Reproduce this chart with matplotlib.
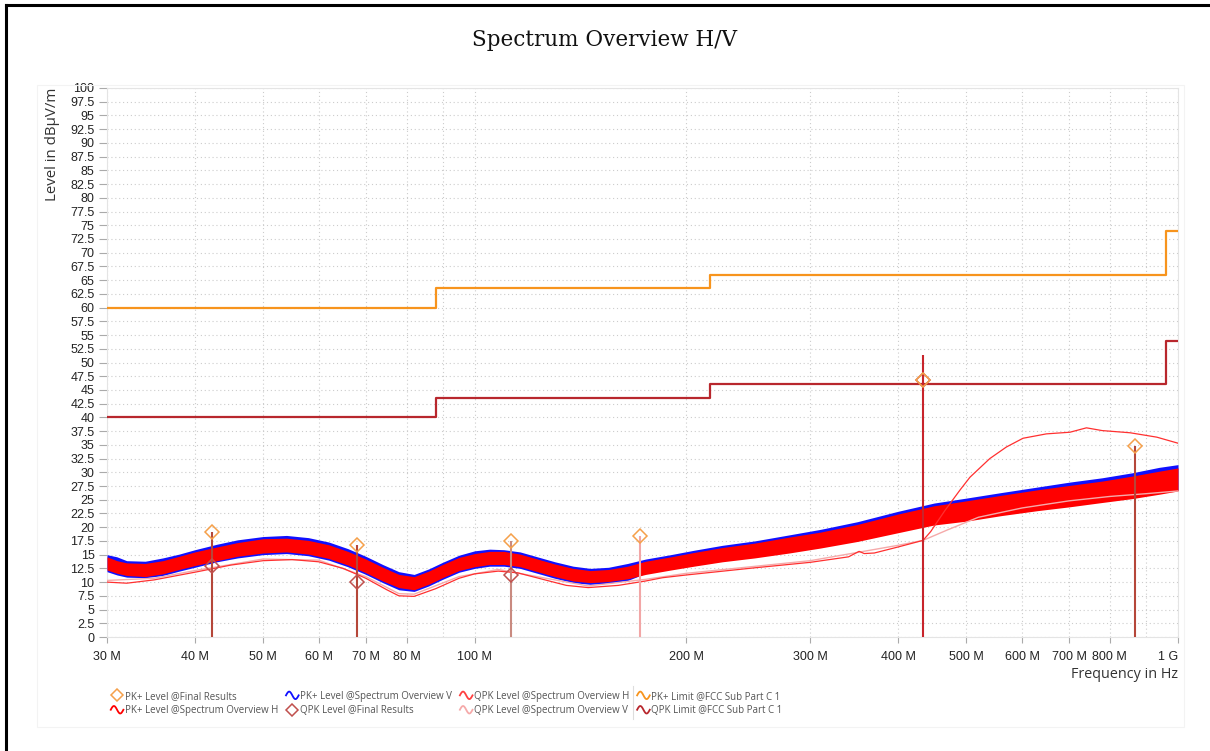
import numpy as np
import matplotlib.pyplot as plt
from matplotlib.lines import Line2D
from matplotlib.legend_handler import HandlerBase
from matplotlib.ticker import FixedLocator, FixedFormatter, NullFormatter

# Frequencies in MHz, levels in dBuV/m
pk_freq = [30, 31, 32, 34, 36, 38, 40, 43, 46, 50, 54, 58, 62, 66, 70, 74, 78, 82, 86, 90,
           95, 100, 105, 110, 116, 122, 130, 138, 146, 155, 165, 175, 190, 205, 225, 250,
           280, 310, 350, 400, 450, 500, 560, 630, 700, 780, 860, 940, 1000]
pk_h_lo = [12.2, 11.6, 11.2, 11.0, 11.5, 12.3, 13.0, 13.9, 14.7, 15.3, 15.5, 15.1, 14.3, 13.1,
           11.7, 10.2, 9.0, 8.6, 9.6, 10.8, 12.1, 12.8, 13.2, 13.2, 12.8, 12.0, 11.0, 10.2, 9.9,
           10.1, 10.6, 11.4, 12.2, 12.9, 13.7, 14.4, 15.3, 16.2, 17.4, 19.0, 20.4, 21.1, 22.1,
           23.0, 23.7, 24.5, 25.2, 26.0, 26.6]
pk_h_hi = [14.6, 13.9, 13.5, 13.4, 13.9, 14.7, 15.5, 16.4, 17.2, 17.9, 18.0, 17.6, 16.8, 15.6,
           14.2, 12.7, 11.4, 11.0, 12.0, 13.2, 14.5, 15.2, 15.6, 15.6, 15.1, 14.3, 13.3, 12.5, 12.1,
           12.3, 12.9, 13.8, 14.6, 15.4, 16.3, 17.1, 18.2, 19.1, 20.5, 22.4, 23.9, 24.8, 25.8,
           26.8, 27.6, 28.4, 29.3, 30.2, 30.8]
pk_v_lo = [11.9, 11.3, 10.9, 10.8, 11.2, 12.0, 12.7, 13.7, 14.4, 15.0, 15.2, 14.8, 14.0, 12.8,
           11.4, 9.9, 8.6, 8.3, 9.3, 10.5, 11.8, 12.5, 12.9, 12.9, 12.5, 11.7, 10.7, 9.9, 9.6,
           9.8, 10.3, 11.6, 12.4, 13.1, 13.9, 14.6, 15.5, 16.4, 17.6, 19.2, 20.6, 21.3, 22.3,
           23.2, 23.9, 24.7, 25.4, 26.2, 26.8]
pk_v_hi = [15.0, 14.6, 13.9, 13.8, 14.4, 15.1, 15.9, 16.9, 17.7, 18.3, 18.5, 18.1, 17.3, 16.1,
           14.7, 13.2, 11.9, 11.4, 12.4, 13.6, 14.9, 15.7, 16.0, 15.9, 15.5, 14.7, 13.7, 12.9, 12.5,
           12.7, 13.4, 14.2, 15.0, 15.8, 16.7, 17.5, 18.6, 19.6, 21.0, 22.9, 24.4, 25.3, 26.3,
           27.3, 28.2, 29.0, 29.9, 30.9, 31.4]

qpk_h_freq = [30, 32, 35, 40, 45, 50, 55, 60, 65, 70, 75, 78, 82, 88, 95, 100, 108, 115, 125,
              135, 145, 160, 175, 185, 200, 250, 300, 340, 352, 358, 370, 400, 434, 445, 466,
              490, 506, 540, 570, 602, 650, 702, 741, 780, 855, 933, 1000]
qpk_h = [10.0, 9.8, 10.4, 11.8, 13.1, 13.9, 14.1, 13.7, 12.5, 10.7, 8.6, 7.5, 7.4, 8.8, 10.7,
         11.5, 12.0, 11.7, 10.5, 9.4, 9.0, 9.4, 10.2, 10.8, 11.3, 12.6, 13.6, 14.6, 15.6, 15.2,
         15.3, 16.4, 17.6, 19.2, 23.0, 26.8, 29.1, 32.5, 34.6, 36.2, 37.0, 37.3, 38.1, 37.6,
         37.2, 36.4, 35.3]

qpk_v_freq = [30, 35, 40, 50, 60, 70, 78, 82, 95, 108, 125, 145, 175, 200, 300, 400, 434, 470,
              520, 600, 700, 800, 900, 1000]
qpk_v = [10.3, 10.7, 12.1, 14.2, 14.0, 11.0, 7.9, 7.8, 11.0, 12.3, 10.8, 9.3, 10.5, 11.6, 13.9,
         16.7, 17.6, 19.5, 21.8, 23.5, 24.8, 25.6, 26.1, 26.6]

lim_freq = [30, 88, 216, 960, 1000]
pk_limit = [60, 63.5, 66, 74, 74]
qpk_limit = [40, 43.5, 46, 54, 54]

final_freq = [42.3, 68.0, 112.6, 171.8, 434, 869]
final_pk = [19.1, 16.8, 17.5, 18.4, 46.8, 34.8]
final_qpk_freq = [42.3, 68.0, 112.6, 434]
final_qpk = [12.9, 10.0, 11.3, 46.8]
stick_top = [19.1, 16.8, 17.5, 18.4, 51.4, 34.8]
stick_colors = ['#b5473a', '#b5473a', '#c98a80', '#f2a6a6', '#c8242b', '#b5473a']

x_ticks = [30, 40, 50, 60, 70, 80, 100, 200, 300, 400, 500, 600, 700, 800, 1000]
x_labels = ['30 M', '40 M', '50 M', '60 M', '70 M', '80 M', '100 M', '200 M', '300 M',
            '400 M', '500 M', '600 M', '700 M', '800 M', '1 G']
x_grid_extra = [90, 900]
y_ticks = np.arange(0, 100.1, 2.5)

ORANGE = '#f7941d'
DARKRED = '#b8272d'
RED = '#ff0000'
BLUE = '#1010ff'
QPK_H_COL = '#ff3030'
QPK_V_COL = '#f5aaaa'


class WaveHandler(HandlerBase):
    def create_artists(self, legend, orig_handle, xdescent, ydescent, width, height,
                       fontsize, trans):
        t = np.linspace(0, 1, 40)
        xs = -xdescent + width * t
        ys = -ydescent + height * 0.5 - height * 0.55 * np.sin(2 * np.pi * t + np.pi)
        ln = Line2D(xs, ys, color=orig_handle.get_color(), lw=1.3, transform=trans)
        return [ln]


fig = plt.figure(figsize=(12.1, 7.51), dpi=100)
ax = fig.add_axes([107 / 1210, 1 - 637 / 751, (1178 - 107) / 1210, (637 - 88) / 751])

ax.set_xscale('log')
ax.set_xlim(30, 1000)
ax.set_ylim(0, 100)

# limits
ax.step(lim_freq, pk_limit, where='post', color=ORANGE, lw=1.6, zorder=3)
ax.step(lim_freq, qpk_limit, where='post', color=DARKRED, lw=1.6, zorder=3)

# peak traces
ax.fill_between(pk_freq, pk_v_lo, pk_v_hi, color=BLUE, lw=0, zorder=4)
ax.fill_between(pk_freq, pk_h_lo, pk_h_hi, color=RED, lw=0, zorder=5)

# quasi-peak traces
ax.plot(qpk_v_freq, qpk_v, color=QPK_V_COL, lw=1.0, zorder=6)
ax.plot(qpk_h_freq, qpk_h, color=QPK_H_COL, lw=0.9, zorder=6)

# final result sticks and markers
for f, top, c in zip(final_freq, stick_top, stick_colors):
    ax.vlines(f, 0, top, color=c, lw=1.5, zorder=7)
ax.plot(final_qpk_freq, final_qpk, ls='none', marker='D', ms=7, mfc='none', mec='#c0504d',
        mew=1.1, zorder=8)
ax.plot(final_freq, final_pk, ls='none', marker='D', ms=7, mfc='none', mec='#f5a04a',
        mew=1.1, zorder=9)

# axes styling
ax.xaxis.set_major_locator(FixedLocator(x_ticks))
ax.xaxis.set_major_formatter(FixedFormatter(x_labels))
ax.xaxis.set_minor_locator(FixedLocator(x_grid_extra))
ax.xaxis.set_minor_formatter(NullFormatter())
ax.set_yticks(y_ticks)
ax.set_yticklabels([('%g' % v) for v in y_ticks])
ax.tick_params(axis='x', which='major', direction='out', length=4, width=0.8, color='#aaaaaa',
               pad=6, labelsize=9, labelcolor='#222222')
ax.tick_params(axis='x', which='minor', length=0)
ax.tick_params(axis='y', direction='out', length=6, width=0.8, color='#aaaaaa', pad=3,
               labelsize=9, labelcolor='#222222')
for lab in ax.get_xticklabels() + ax.get_yticklabels():
    lab.set_family('Liberation Sans')
ax.get_xticklabels()[-1].set_horizontalalignment('right')
ax.grid(True, which='both', axis='x', color='#cccccc', lw=0.8, ls=(0, (1, 2.5)))
ax.grid(True, which='major', axis='y', color='#cccccc', lw=0.8, ls=(0, (1, 2.5)))
ax.set_axisbelow(True)
for s in ax.spines.values():
    s.set_color('#e4e4e4')
    s.set_linewidth(0.8)

fig.text(0.5, 1 - 40 / 751, 'Spectrum Overview H/V', ha='center', va='center',
         fontsize=15.5, family='DejaVu Serif', color='#111111')
fig.text(52 / 1210, 1 - 88 / 751, 'Level in dB\u00b5V/m', rotation=90, ha='center', va='top',
         fontsize=10.8, family='Open Sans', color='#333333')
fig.text(1178 / 1210, 1 - 675 / 751, 'Frequency in Hz', ha='right', va='center',
         fontsize=10.4, family='Open Sans', color='#333333')

# legend
h_pkfin = Line2D([], [], ls='none', marker='D', ms=6, mfc='none', mec='#f5a04a', mew=1.1)
h_qpkfin = Line2D([], [], ls='none', marker='D', ms=6, mfc='none', mec='#c0504d', mew=1.1)
h_pkh = Line2D([], [], color=RED)
h_pkv = Line2D([], [], color=BLUE)
h_qh = Line2D([], [], color='#ff4040')
h_qv = Line2D([], [], color=QPK_V_COL)
h_pl = Line2D([], [], color=ORANGE)
h_ql = Line2D([], [], color=DARKRED)
handles = [h_pkfin, h_pkh, h_pkv, h_qpkfin, h_qh, h_qv, h_pl, h_ql]
labels = ['PK+ Level @Final Results', 'PK+ Level @Spectrum Overview H',
          'PK+ Level @Spectrum Overview V', 'QPK Level @Final Results',
          'QPK Level @Spectrum Overview H', 'QPK Level @Spectrum Overview V',
          'PK+ Limit @FCC Sub Part C 1', 'QPK Limit @FCC Sub Part C 1']
hmap = {h: WaveHandler() for h in [h_pkh, h_pkv, h_qh, h_qv, h_pl, h_ql]}
leg = fig.legend(handles, labels, loc='upper left', bbox_to_anchor=(102 / 1210, 1 - 682 / 751),
                 ncol=4, frameon=False, handler_map=hmap, handlelength=1.3, handletextpad=0.15,
                 columnspacing=0.8, labelspacing=0.35, prop={'family': 'Open Sans', 'size': 7})
for t in leg.get_texts():
    t.set_color('#555555')

fig.add_artist(Line2D([633 / 1210, 633 / 1210], [1 - 686 / 751, 1 - 719 / 751],
                      color='#dddddd', lw=0.8))
# faint panel and page border
fig.add_artist(plt.Rectangle((37 / 1210, 1 - 727 / 751), (1184 - 37) / 1210, (727 - 85) / 751,
                             fill=False, ec='#f3f3f3', lw=0.8))
fig.add_artist(Line2D([6 / 1210, 6 / 1210], [0, 1 - 5 / 751], color='black', lw=2.2))
fig.add_artist(Line2D([6 / 1210, 1], [1 - 5 / 751, 1 - 5 / 751], color='black', lw=2.2))

fig.savefig('out.png', dpi=100)
